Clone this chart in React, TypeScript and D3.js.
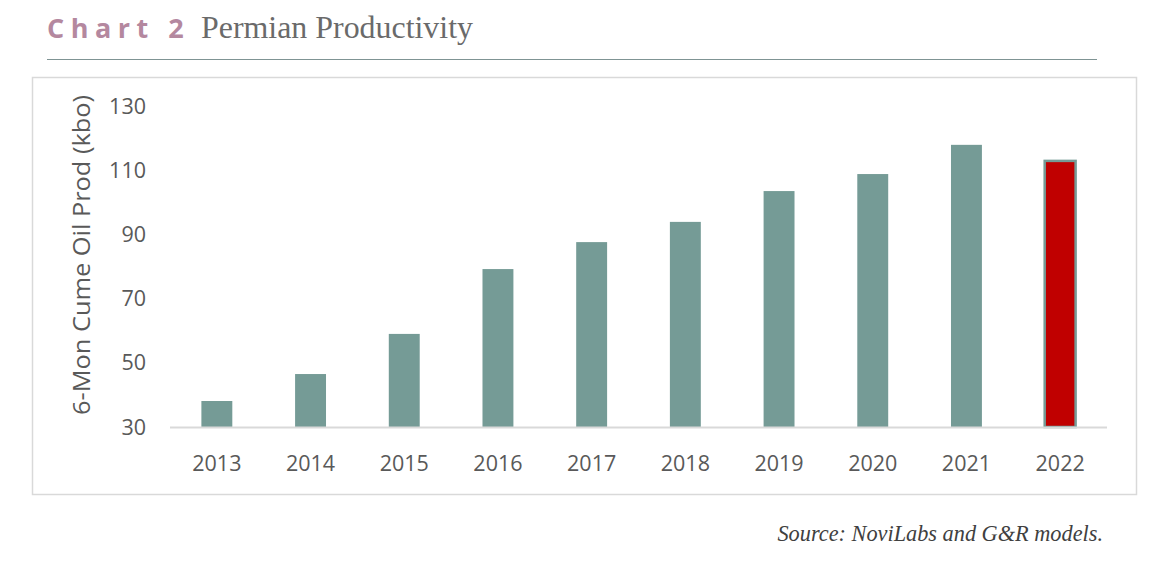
import React from "react";
import * as d3 from "d3";

const years = ["2013", "2014", "2015", "2016", "2017", "2018", "2019", "2020", "2021", "2022"];
const values = [38.1, 46.5, 59.0, 79.2, 87.6, 93.9, 103.5, 108.8, 117.9, 112.9];
const yTicks = [30, 50, 70, 90, 110, 130];

export default function App() {
  const W = 1162, H = 569;
  const x = d3.scaleBand<string>().domain(years).range([170, 1107]).paddingInner(0.67).paddingOuter(0.335);
  const y = d3.scaleLinear().domain([30, 130]).range([427, 106]);
  const axisFont = "'Open Sans', 'Noto Sans', sans-serif";
  return (
    <svg width={W} height={H} style={{ position: "absolute", left: 0, top: 0, background: "#fff" }}>
      <text x={47} y={38} fontFamily="'Open Sans', 'Noto Sans', sans-serif" fontWeight={700} fontSize={27} letterSpacing={6.5} fill="#b4889f">Chart 2</text>
      <text x={201} y={38} fontFamily="'Liberation Serif', serif" fontSize={31.5} fill="#6a6a6a" textLength={272} lengthAdjust="spacingAndGlyphs">Permian Productivity</text>
      <line x1={47} x2={1097} y1={59.5} y2={59.5} stroke="#7f9494" strokeWidth={1.2} />
      <rect x={32.5} y={77.5} width={1104} height={417} fill="none" stroke="#d9d9d9" strokeWidth={1.5} />
      {yTicks.map((t) => (
        <text key={t} x={146} y={y(t)} dy="0.35em" textAnchor="end" fontFamily={axisFont} fontSize={21.5} fill="#595959">{t}</text>
      ))}
      <text transform={`translate(82,${(95 + 415) / 2}) rotate(-90)`} textAnchor="middle" dy="0.35em" fontFamily={axisFont} fontSize={23.5} fill="#595959" textLength={320} lengthAdjust="spacingAndGlyphs">6-Mon Cume Oil Prod (kbo)</text>
      {years.map((yr, i) => {
        const last = i === years.length - 1;
        return (
          <rect key={yr} x={x(yr)!} y={y(values[i])} width={x.bandwidth()} height={y(30) - y(values[i])}
            fill={last ? "#c00000" : "#759b96"} stroke={last ? "#759b96" : "none"} strokeWidth={last ? 2.5 : 0} />
        );
      })}
      <line x1={170} x2={1107} y1={427.5} y2={427.5} stroke="#d9d9d9" strokeWidth={2} />
      {years.map((yr) => (
        <text key={yr} x={x(yr)! + x.bandwidth() / 2} y={463} dy="0.35em" textAnchor="middle" fontFamily={axisFont} fontSize={21.5} fill="#595959">{yr}</text>
      ))}
      <text x={1103} y={541} textAnchor="end" fontFamily="'Liberation Serif', serif" fontStyle="italic" fontSize={22.3} fill="#404040">Source: NoviLabs and G&amp;R models.</text>
    </svg>
  );
}
